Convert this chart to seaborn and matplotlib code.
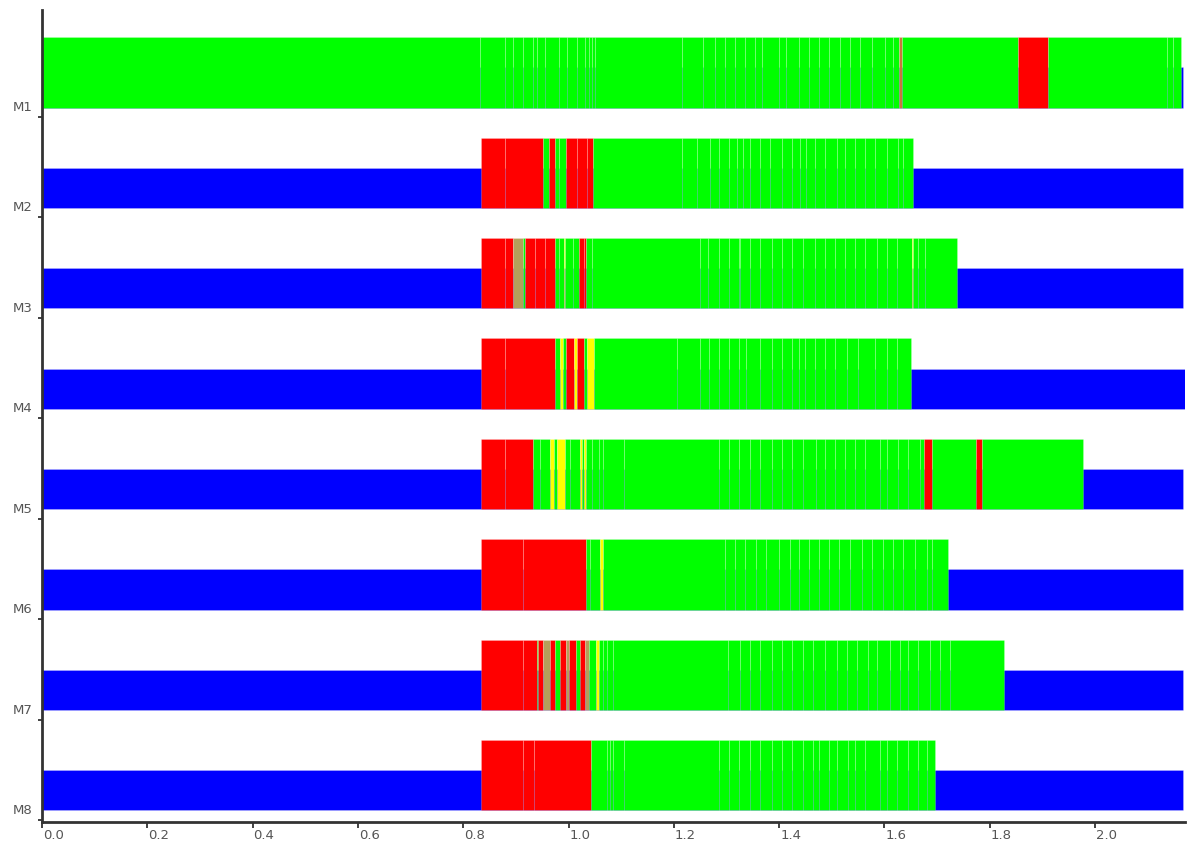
import numpy as np
import matplotlib
matplotlib.use("Agg")
import matplotlib.pyplot as plt
import matplotlib.transforms as mtransforms
import seaborn as sns

# Track names, top to bottom
MARKERS = ["M1", "M2", "M3", "M4", "M5", "M6", "M7", "M8"]

# Full length of the underlying (blue) track of every marker
BASE_LENGTH = [2.167, 2.167, 2.167, 2.171, 2.167, 2.167, 2.167, 2.167]

# Where the coloured segment run begins on each track
SEGMENT_START = [0.0, 0.833, 0.833, 0.833, 0.833, 0.833, 0.833, 0.833]

# Segments as (state, end position); each starts where the previous one ends
# g = green, r = red, y = yellow, k = khaki, o = brown
M1 = [("g", 0.832), ("g", 0.879), ("g", 0.895), ("g", 0.914), ("g", 0.933),
      ("g", 0.940), ("g", 0.955), ("g", 0.981), ("g", 0.997), ("g", 1.016),
      ("g", 1.031), ("g", 1.038), ("g", 1.044), ("g", 1.050), ("g", 1.215),
      ("g", 1.256), ("g", 1.278), ("g", 1.297), ("g", 1.316), ("g", 1.335),
      ("g", 1.354), ("g", 1.367), ("g", 1.399), ("g", 1.414), ("g", 1.437),
      ("g", 1.456), ("g", 1.475), ("g", 1.494), ("g", 1.516), ("g", 1.535),
      ("g", 1.554), ("g", 1.576), ("g", 1.601), ("g", 1.617), ("g", 1.628),
      ("o", 1.634), ("g", 1.853), ("r", 1.911), ("g", 2.136), ("g", 2.149),
      ("g", 2.163)]

M2 = [("r", 0.879), ("r", 0.952), ("g", 0.962), ("r", 0.974), ("g", 0.981),
      ("g", 0.995), ("r", 1.016), ("r", 1.035), ("r", 1.046), ("g", 1.215),
      ("g", 1.244), ("g", 1.269), ("g", 1.285), ("g", 1.304), ("g", 1.320),
      ("g", 1.332), ("g", 1.345), ("g", 1.364), ("g", 1.383), ("g", 1.405),
      ("g", 1.424), ("g", 1.440), ("g", 1.452), ("g", 1.468), ("g", 1.487),
      ("g", 1.509), ("g", 1.525), ("g", 1.544), ("g", 1.563), ("g", 1.582),
      ("g", 1.604), ("g", 1.626), ("g", 1.636), ("g", 1.655)]

M3 = [("r", 0.879), ("r", 0.895), ("k", 0.913), ("g", 0.917), ("r", 0.936),
      ("r", 0.955), ("r", 0.974), ("g", 0.981), ("g", 0.991), ("y", 0.994),
      ("g", 1.009), ("g", 1.020), ("r", 1.029), ("r", 1.033), ("g", 1.044),
      ("g", 1.250), ("g", 1.264), ("g", 1.285), ("g", 1.304), ("g", 1.323),
      ("g", 1.326), ("g", 1.345), ("g", 1.364), ("g", 1.386), ("g", 1.405),
      ("g", 1.424), ("g", 1.446), ("g", 1.468), ("g", 1.487), ("g", 1.506),
      ("g", 1.525), ("g", 1.544), ("g", 1.563), ("g", 1.585), ("g", 1.604),
      ("g", 1.623), ("g", 1.652), ("y", 1.655), ("g", 1.664), ("g", 1.677),
      ("g", 1.737)]

M4 = [("r", 0.879), ("r", 0.974), ("g", 0.984), ("y", 0.989), ("g", 0.995),
      ("r", 1.011), ("y", 1.016), ("r", 1.029), ("g", 1.035), ("y", 1.048),
      ("g", 1.206), ("g", 1.250), ("g", 1.266), ("g", 1.285), ("g", 1.304),
      ("g", 1.323), ("g", 1.338), ("g", 1.364), ("g", 1.386), ("g", 1.405),
      ("g", 1.424), ("g", 1.437), ("g", 1.449), ("g", 1.468), ("g", 1.487),
      ("g", 1.506), ("g", 1.528), ("g", 1.550), ("g", 1.582), ("g", 1.604),
      ("g", 1.623), ("g", 1.650)]

M5 = [("r", 0.879), ("r", 0.933), ("g", 0.945), ("g", 0.965), ("y", 0.973),
      ("g", 0.979), ("y", 0.994), ("g", 1.003), ("g", 1.021), ("y", 1.025),
      ("g", 1.029), ("y", 1.033), ("g", 1.044), ("g", 1.057), ("g", 1.066),
      ("g", 1.105), ("g", 1.286), ("g", 1.304), ("g", 1.324), ("g", 1.345),
      ("g", 1.364), ("g", 1.386), ("g", 1.405), ("g", 1.424), ("g", 1.446),
      ("g", 1.471), ("g", 1.487), ("g", 1.506), ("g", 1.525), ("g", 1.544),
      ("g", 1.563), ("g", 1.592), ("g", 1.604), ("g", 1.625), ("g", 1.645),
      ("g", 1.668), ("g", 1.675), ("r", 1.690), ("g", 1.773), ("r", 1.786),
      ("g", 1.978)]

M6 = [("r", 0.914), ("r", 1.033), ("g", 1.040), ("g", 1.059), ("y", 1.066),
      ("g", 1.297), ("g", 1.316), ("g", 1.335), ("g", 1.357), ("g", 1.376),
      ("g", 1.399), ("g", 1.421), ("g", 1.437), ("g", 1.456), ("g", 1.475),
      ("g", 1.494), ("g", 1.513), ("g", 1.535), ("g", 1.557), ("g", 1.576),
      ("g", 1.598), ("g", 1.617), ("g", 1.636), ("g", 1.658), ("g", 1.680),
      ("g", 1.690), ("g", 1.721)]

M7 = [("r", 0.914), ("r", 0.940), ("g", 0.942), ("r", 0.951), ("k", 0.965),
      ("r", 0.974), ("g", 0.984), ("r", 0.995), ("k", 1.000), ("r", 1.014),
      ("g", 1.022), ("r", 1.031), ("k", 1.039), ("g", 1.053), ("y", 1.057),
      ("g", 1.065), ("g", 1.073), ("g", 1.085), ("g", 1.303), ("g", 1.326),
      ("g", 1.345), ("g", 1.364), ("g", 1.386), ("g", 1.405), ("g", 1.424),
      ("g", 1.446), ("g", 1.465), ("g", 1.487), ("g", 1.509), ("g", 1.528),
      ("g", 1.547), ("g", 1.569), ("g", 1.585), ("g", 1.611), ("g", 1.630),
      ("g", 1.645), ("g", 1.664), ("g", 1.687), ("g", 1.706), ("g", 1.725),
      ("g", 1.828)]

M8 = [("r", 0.914), ("r", 0.935), ("r", 1.043), ("g", 1.073), ("g", 1.078),
      ("g", 1.085), ("g", 1.105), ("g", 1.285), ("g", 1.304), ("g", 1.324),
      ("g", 1.345), ("g", 1.364), ("g", 1.386), ("g", 1.405), ("g", 1.424),
      ("g", 1.446), ("g", 1.465), ("g", 1.475), ("g", 1.494), ("g", 1.509),
      ("g", 1.531), ("g", 1.544), ("g", 1.563), ("g", 1.592), ("g", 1.604),
      ("g", 1.623), ("g", 1.645), ("g", 1.664), ("g", 1.680), ("g", 1.697)]

SEGMENTS = [M1, M2, M3, M4, M5, M6, M7, M8]

X_TICKS = [0.0, 0.2, 0.4, 0.6, 0.8, 1.0, 1.2, 1.4, 1.6, 1.8, 2.0]

STATE_COLORS = {"g": "#00ff00", "r": "#ff0000", "y": "#ffff00",
                "k": "#b4a05a", "o": "#c8783c"}
BASE_COLOR = "#0000ff"
EDGE = (1, 1, 1, 0.3)

sns.set_theme(style="ticks")
plt.rcParams["font.family"] = ["DejaVu Sans"]

fig = plt.figure(figsize=(11.87, 8.46), dpi=100)
ax = fig.add_axes([0.03538, 0.02837, 0.96294, 0.95981])
ax.set_facecolor("white")

GAP = 0.095      # space between a track's tick and the bottom of its bars
TALL = 0.70      # height of the segment run
SHORT = 0.40     # height of the underlying track

for i, (length, start, segs) in enumerate(zip(BASE_LENGTH, SEGMENT_START, SEGMENTS)):
    ax.barh(i - GAP - SHORT, length, left=0, height=SHORT, align="edge",
            color=BASE_COLOR, edgecolor=EDGE, linewidth=0.5, zorder=1)
    lefts, widths, colors = [], [], []
    prev = start
    for code, end in segs:
        lefts.append(prev)
        widths.append(end - prev)
        colors.append(STATE_COLORS[code])
        prev = end
    ax.barh([i - GAP - TALL] * len(widths), widths, left=lefts, height=TALL,
            align="edge", color=colors, edgecolor=EDGE,
            linewidth=0.45, zorder=2)

ax.set_xlim(0, 2.1709)
ax.set_ylim(7.02, -1.066)

ax.set_xticks(X_TICKS)
ax.set_xticklabels([f"{v:.1f}" for v in X_TICKS])
ax.set_yticks(range(len(MARKERS)))
ax.set_yticklabels(MARKERS)

ax.tick_params(axis="both", direction="out", length=4, width=1.3,
               color="#333333", labelsize=9.5, labelcolor="#555555")
ax.tick_params(axis="x", pad=1)
ax.tick_params(axis="y", length=3, pad=4)

shift_up = mtransforms.ScaledTranslation(0, 11 / 100, fig.dpi_scale_trans)
for lbl in ax.get_yticklabels():
    lbl.set_transform(lbl.get_transform() + shift_up)
shift_right = mtransforms.ScaledTranslation(1 / 100, 0, fig.dpi_scale_trans)
for lbl in ax.get_xticklabels():
    lbl.set_horizontalalignment("left")
    lbl.set_transform(lbl.get_transform() + shift_right)

for side in ("top", "right"):
    ax.spines[side].set_visible(False)
for side in ("left", "bottom"):
    ax.spines[side].set_linewidth(2)
    ax.spines[side].set_color("#333333")
ax.grid(False)

fig.savefig("out.png", dpi=100, facecolor="white")
